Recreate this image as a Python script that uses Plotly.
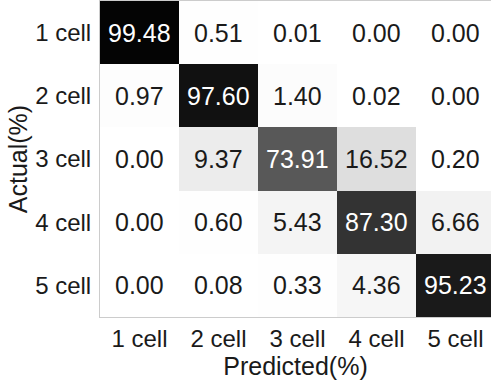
import plotly.graph_objects as go

categories = ["1 cell", "2 cell", "3 cell", "4 cell", "5 cell"]
values = [
    [99.48, 0.51, 0.01, 0.00, 0.00],
    [0.97, 97.60, 1.40, 0.02, 0.00],
    [0.00, 9.37, 73.91, 16.52, 0.20],
    [0.00, 0.60, 5.43, 87.30, 6.66],
    [0.00, 0.08, 0.33, 4.36, 95.23],
]
x_title = "Predicted(%)"
y_title = "Actual(%)"

FONT = "Liberation Sans, Arial, Helvetica, sans-serif"

colorscale = [
    [0.0, "#ffffff"],
    [0.0543, "#f4f4f4"],
    [0.0937, "#ececec"],
    [0.1652, "#dedede"],
    [0.7391, "#585858"],
    [0.873, "#333333"],
    [0.9523, "#1a1a1a"],
    [0.976, "#111111"],
    [1.0, "#000000"],
]

fig = go.Figure(
    go.Heatmap(
        z=values,
        x=list(range(len(categories))),
        y=list(range(len(categories))),
        colorscale=colorscale,
        zmin=0,
        zmax=100,
        showscale=False,
        hoverinfo="skip",
    )
)

for i, row in enumerate(values):
    for j, v in enumerate(row):
        fig.add_annotation(
            x=j, y=i, xref="x", yref="y",
            text=f"{v:.2f}", showarrow=False,
            font=dict(family=FONT, size=25, color="#ffffff" if v > 50 else "#1a1a1a"),
        )

fig.update_layout(
    width=491,
    height=384,
    margin=dict(l=100, r=0, t=1, b=67, autoexpand=False),
    paper_bgcolor="white",
    plot_bgcolor="white",
    font=dict(family=FONT, size=24, color="#1a1a1a"),
    xaxis=dict(
        range=[-0.5, 4.45],
        tickmode="array",
        tickvals=list(range(len(categories))),
        ticktext=categories,
        showgrid=False,
        zeroline=False,
        showline=True,
        mirror=True,
        linecolor="#cccccc",
        linewidth=1,
        ticks="",
        tickfont=dict(size=24),
        automargin=False,
        title=dict(text=x_title, font=dict(size=25), standoff=3),
    ),
    yaxis=dict(
        range=[4.5, -0.5],
        tickmode="array",
        tickvals=list(range(len(categories))),
        ticktext=categories,
        showgrid=False,
        zeroline=False,
        showline=True,
        linecolor="#cccccc",
        linewidth=1,
        ticks="outside",
        ticklen=3,
        tickcolor="rgba(0,0,0,0)",
        tickfont=dict(size=24),
        automargin=False,
        title=dict(text=y_title, font=dict(size=25), standoff=0),
    ),
)

fig.write_html(
    "out.html",
    config={"displayModeBar": False, "staticPlot": True},
    post_script="document.body.style.margin='0';document.body.style.padding='0';",
)
